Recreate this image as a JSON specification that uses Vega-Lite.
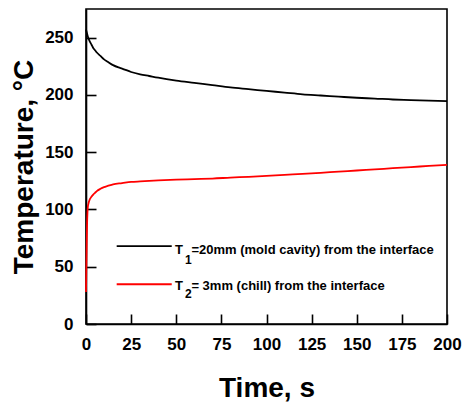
{
  "$schema": "https://vega.github.io/schema/vega-lite/v6.json",
  "width": 361,
  "height": 315,
  "autosize": "none",
  "padding": {"left": 86, "top": 9, "right": 15, "bottom": 79},
  "background": "white",
  "config": {
    "view": {"stroke": "black", "strokeWidth": 1.6},
    "font": "Liberation Sans",
    "axis": {
      "domainColor": "black", "domainWidth": 1.6, "tickColor": "black", "tickWidth": 1.6,
      "grid": false, "labelFont": "Liberation Sans", "labelFontWeight": "bold", "labelFontSize": 17,
      "labelColor": "black", "titleFont": "Liberation Sans", "titleFontWeight": "bold",
      "titleFontSize": 28, "titleColor": "black"
    }
  },
  "datasets": {
    "curves": [
      {"t": 0, "v": 257, "s": "T1"}, {"t": 0.5, "v": 254, "s": "T1"}, {"t": 1, "v": 251, "s": "T1"},
      {"t": 2, "v": 247, "s": "T1"}, {"t": 3, "v": 244, "s": "T1"}, {"t": 4, "v": 241, "s": "T1"},
      {"t": 5, "v": 239, "s": "T1"}, {"t": 6, "v": 237, "s": "T1"}, {"t": 8, "v": 234, "s": "T1"},
      {"t": 10, "v": 231, "s": "T1"}, {"t": 12, "v": 229, "s": "T1"}, {"t": 15, "v": 226, "s": "T1"},
      {"t": 18, "v": 224, "s": "T1"}, {"t": 20, "v": 223, "s": "T1"}, {"t": 25, "v": 220, "s": "T1"},
      {"t": 30, "v": 218, "s": "T1"}, {"t": 35, "v": 216.5, "s": "T1"}, {"t": 40, "v": 215, "s": "T1"},
      {"t": 50, "v": 212.5, "s": "T1"}, {"t": 60, "v": 210.5, "s": "T1"}, {"t": 70, "v": 208.5, "s": "T1"},
      {"t": 80, "v": 206.5, "s": "T1"}, {"t": 90, "v": 205, "s": "T1"}, {"t": 100, "v": 203.5, "s": "T1"},
      {"t": 110, "v": 202, "s": "T1"}, {"t": 120, "v": 200.5, "s": "T1"}, {"t": 130, "v": 199.5, "s": "T1"},
      {"t": 140, "v": 198.5, "s": "T1"}, {"t": 150, "v": 197.5, "s": "T1"}, {"t": 160, "v": 196.8, "s": "T1"},
      {"t": 170, "v": 196, "s": "T1"}, {"t": 180, "v": 195.5, "s": "T1"}, {"t": 190, "v": 195, "s": "T1"},
      {"t": 200, "v": 194.5, "s": "T1"},
      {"t": 0, "v": 28, "s": "T2"}, {"t": 0.2, "v": 50, "s": "T2"}, {"t": 0.4, "v": 70, "s": "T2"},
      {"t": 0.6, "v": 88, "s": "T2"}, {"t": 0.8, "v": 97, "s": "T2"}, {"t": 1, "v": 102, "s": "T2"},
      {"t": 1.5, "v": 106, "s": "T2"}, {"t": 2, "v": 108.5, "s": "T2"}, {"t": 3, "v": 111, "s": "T2"},
      {"t": 4, "v": 113, "s": "T2"}, {"t": 5, "v": 114.5, "s": "T2"}, {"t": 6, "v": 116, "s": "T2"},
      {"t": 8, "v": 118, "s": "T2"}, {"t": 10, "v": 119.5, "s": "T2"}, {"t": 12, "v": 120.5, "s": "T2"},
      {"t": 15, "v": 122, "s": "T2"}, {"t": 20, "v": 123, "s": "T2"}, {"t": 25, "v": 124, "s": "T2"},
      {"t": 30, "v": 124.5, "s": "T2"}, {"t": 40, "v": 125.3, "s": "T2"}, {"t": 50, "v": 126, "s": "T2"},
      {"t": 60, "v": 126.5, "s": "T2"}, {"t": 70, "v": 127, "s": "T2"}, {"t": 80, "v": 127.8, "s": "T2"},
      {"t": 90, "v": 128.5, "s": "T2"}, {"t": 100, "v": 129.3, "s": "T2"}, {"t": 110, "v": 130.2, "s": "T2"},
      {"t": 120, "v": 131, "s": "T2"}, {"t": 130, "v": 132, "s": "T2"}, {"t": 140, "v": 133, "s": "T2"},
      {"t": 150, "v": 134, "s": "T2"}, {"t": 160, "v": 135, "s": "T2"}, {"t": 170, "v": 136, "s": "T2"},
      {"t": 180, "v": 137, "s": "T2"}, {"t": 190, "v": 138, "s": "T2"}, {"t": 200, "v": 139, "s": "T2"}
    ],
    "legendLines": [
      {"x1": 17, "x2": 47.5, "y": 68, "s": "T1"},
      {"x1": 17, "x2": 47.5, "y": 34.7, "s": "T2"}
    ],
    "legendText": [
      {"x": 49.3, "y": 64.2, "label": "T", "kind": "main"},
      {"x": 58.4, "y": 64.2, "label": "=20mm (mold cavity) from the interface", "kind": "main"},
      {"x": 54.9, "y": 56.2, "label": "1", "kind": "sub"},
      {"x": 49.3, "y": 33.2, "label": "T", "kind": "main"},
      {"x": 58.4, "y": 33.2, "label": "= 3mm (chill) from the interface", "kind": "main"},
      {"x": 54.9, "y": 26.5, "label": "2", "kind": "sub"}
    ]
  },
  "layer": [
    {
      "data": {"name": "curves"},
      "mark": {"type": "line", "strokeWidth": 1.8, "interpolate": "monotone"},
      "encoding": {
        "x": {
          "field": "t", "type": "quantitative",
          "scale": {"domain": [0, 200], "nice": false},
          "axis": {
            "title": "Time, s",
            "values": [0, 12.5, 25, 37.5, 50, 62.5, 75, 87.5, 100, 112.5, 125, 137.5, 150, 162.5, 175, 187.5, 200],
            "tickSize": {"expr": "datum.value % 25 === 0 ? -10 : -5"},
            "labelExpr": "datum.value % 25 === 0 ? datum.label : ''",
            "labelPadding": 22, "titlePadding": 22, "labelFlush": false
          }
        },
        "y": {
          "field": "v", "type": "quantitative",
          "scale": {"domain": [0, 275], "nice": false},
          "axis": {
            "title": "Temperature, °C",
            "values": [0, 25, 50, 75, 100, 125, 150, 175, 200, 225, 250],
            "tickSize": {"expr": "datum.value % 50 === 0 ? -10 : -5"},
            "labelExpr": "datum.value % 50 === 0 ? datum.label : ''",
            "labelPadding": 23, "titlePadding": 6, "labelFlush": false
          }
        },
        "color": {
          "field": "s", "type": "nominal",
          "scale": {"domain": ["T1", "T2"], "range": ["black", "#ff0000"]},
          "legend": null
        }
      }
    },
    {
      "data": {"name": "legendLines"},
      "mark": {"type": "rule", "strokeWidth": 1.8},
      "encoding": {
        "x": {"field": "x1", "type": "quantitative"},
        "x2": {"field": "x2"},
        "y": {"field": "y", "type": "quantitative"},
        "color": {"field": "s", "type": "nominal", "legend": null}
      }
    },
    {
      "data": {"name": "legendText"},
      "mark": {"type": "text", "align": "left", "baseline": "middle", "fontWeight": "bold", "font": "Liberation Sans", "color": "black"},
      "encoding": {
        "x": {"field": "x", "type": "quantitative"},
        "y": {"field": "y", "type": "quantitative"},
        "text": {"field": "label"},
        "size": {"field": "kind", "type": "nominal", "scale": {"domain": ["main", "sub"], "range": [13, 12]}, "legend": null}
      }
    }
  ]
}
